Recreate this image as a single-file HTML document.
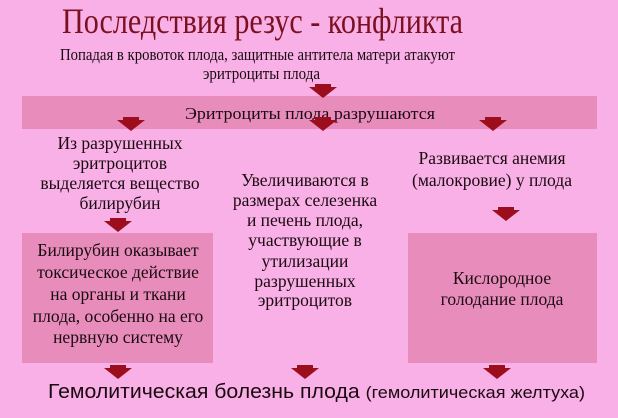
<!DOCTYPE html>
<html><head><meta charset="utf-8"><style>
html,body{margin:0;padding:0;background:#f8b0e6;}
svg{display:block}
text{font-family:"Liberation Serif",serif;fill:#1a0a10;}
.s{font-family:"Liberation Sans",sans-serif;}
</style></head><body>
<svg width="618" height="418" viewBox="0 0 618 418" xmlns="http://www.w3.org/2000/svg">
<defs>
<polygon id="ar" points="-8,0 8,0 8,3 14,3 0,14 -14,3 -8,3" fill="#9c0d1e"/>
</defs>
<rect width="618" height="418" fill="#f8b0e6"/>
<text x="62" y="33" font-size="36" textLength="401" lengthAdjust="spacingAndGlyphs" style="fill:#7a1020">Последствия резус - конфликта</text>
<text x="60" y="60" font-size="17" textLength="395" lengthAdjust="spacingAndGlyphs">Попадая в кровоток плода, защитные антитела матери атакуют</text>
<text x="203" y="79" font-size="17" textLength="117" lengthAdjust="spacingAndGlyphs">эритроциты плода</text>
<rect x="22" y="96" width="575" height="33" fill="#e88dbb"/>
<use href="#ar" x="323" y="84"/>
<text x="185" y="119" font-size="17" textLength="250" lengthAdjust="spacingAndGlyphs">Эритроциты плода разрушаются</text>
<use href="#ar" x="131" y="117"/>
<use href="#ar" x="323" y="117"/>
<use href="#ar" x="493" y="117"/>
<g font-size="17.5" text-anchor="middle">
<text x="120" y="149">Из разрушенных</text>
<text x="120" y="169">эритроцитов</text>
<text x="120" y="189">выделяется вещество</text>
<text x="120" y="209">билирубин</text>
<text x="492" y="164">Развивается анемия</text>
<text x="492" y="186">(малокровие) у плода</text>
<text x="305" y="186">Увеличиваются в</text>
<text x="305" y="206">размерах селезенка</text>
<text x="305" y="226">и печень плода,</text>
<text x="305" y="246">участвующие в</text>
<text x="305" y="267">утилизации</text>
<text x="305" y="287">разрушенных</text>
<text x="305" y="306">эритроцитов</text>
</g>
<use href="#ar" x="506" y="207"/>
<use href="#ar" x="118" y="218"/>
<rect x="22" y="233" width="191" height="130" fill="#e88dbb"/>
<rect x="408" y="233" width="189" height="130" fill="#e88dbb"/>
<g font-size="17.5" text-anchor="middle">
<text x="118" y="256">Билирубин оказывает</text>
<text x="118" y="278">токсическое действие</text>
<text x="118" y="300">на органы и ткани</text>
<text x="118" y="322">плода, особенно на его</text>
<text x="118" y="343">нервную систему</text>
<text x="502" y="284">Кислородное</text>
<text x="502" y="305">голодание плода</text>
</g>
<use href="#ar" x="118" y="365"/>
<use href="#ar" x="305" y="365"/>
<use href="#ar" x="497" y="365"/>
<text class="s" x="48" y="398" font-size="20" textLength="537" lengthAdjust="spacingAndGlyphs">Гемолитическая болезнь плода <tspan font-size="17">(гемолитическая желтуха)</tspan></text>
</svg>
</body></html>
